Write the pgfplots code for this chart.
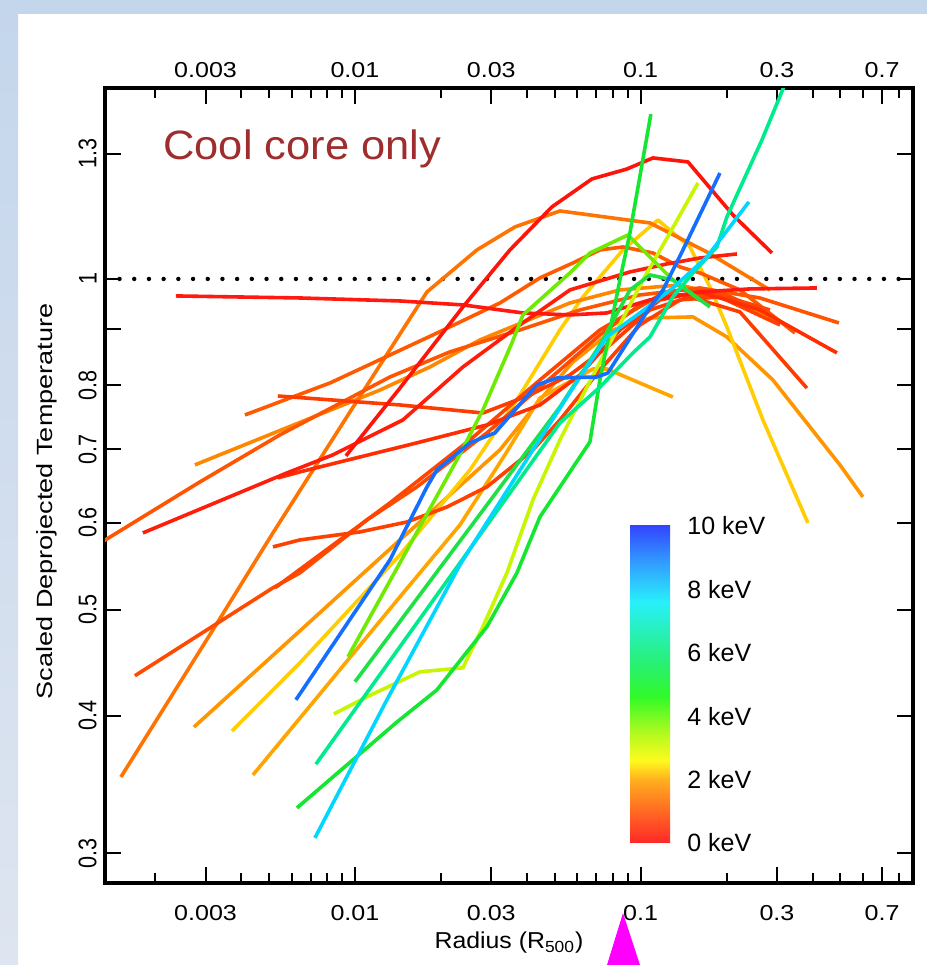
\documentclass[border=0pt]{standalone}
\usepackage{fontspec}
\setmainfont{Liberation Sans}
\usepackage{pgfplots}
\pgfplotsset{compat=1.18}
\definecolor{bandA}{RGB}{196,214,236}
\definecolor{bandB}{RGB}{222,229,240}
\definecolor{ccred}{RGB}{160,45,45}
\definecolor{pinkarrow}{RGB}{255,0,255}
\definecolor{cL1}{RGB}{255,25,15}
\definecolor{cL2}{RGB}{255,20,10}
\definecolor{cL3}{RGB}{255,115,0}
\definecolor{cS4}{RGB}{255,85,0}
\definecolor{cS5}{RGB}{255,30,10}
\definecolor{cS6}{RGB}{255,135,0}
\definecolor{cS7}{RGB}{255,90,0}
\definecolor{cS8}{RGB}{255,60,0}
\definecolor{cS9}{RGB}{255,45,0}
\definecolor{cS10}{RGB}{255,75,0}
\definecolor{cS11}{RGB}{255,65,0}
\definecolor{cS12}{RGB}{255,70,0}
\definecolor{cS13}{RGB}{255,150,0}
\definecolor{cS14}{RGB}{255,205,0}
\definecolor{cS15}{RGB}{255,165,0}
\definecolor{cS16}{RGB}{20,110,255}
\definecolor{cS17}{RGB}{110,235,0}
\definecolor{cS18}{RGB}{30,225,70}
\definecolor{cS19}{RGB}{0,235,140}
\definecolor{cS20}{RGB}{20,230,50}
\definecolor{cS21}{RGB}{0,215,255}
\definecolor{cS22}{RGB}{200,245,0}
\pgfdeclareverticalshading{kevshade}{100bp}{rgb(0bp)=(1,0.157,0.157); rgb(25bp)=(1,0.157,0.157); rgb(30bp)=(1,0.412,0.137); rgb(35bp)=(1,0.686,0.118); rgb(38bp)=(1,0.98,0.118); rgb(42.5bp)=(0.686,0.98,0.118); rgb(48bp)=(0.196,0.98,0.157); rgb(53bp)=(0.157,0.941,0.431); rgb(58bp)=(0.157,0.941,0.706); rgb(63bp)=(0.157,0.941,0.98); rgb(69bp)=(0.196,0.627,1); rgb(75bp)=(0.196,0.275,1); rgb(100bp)=(0.196,0.275,1)}
\newcommand{\tickfont}{\fontsize{10.8}{12}\selectfont}
\begin{document}
\begin{tikzpicture}
\path[use as bounding box] (0pt,0pt) rectangle (463.5pt,482.5pt);
\fill[white] (0pt,0pt) rectangle (463.5pt,482.5pt);
\shade[top color=bandA, bottom color=bandB] (0pt,0pt) rectangle (9pt,482.5pt);
\fill[bandA] (0pt,475.5pt) rectangle (463.5pt,482.5pt);
\begin{axis}[
  at={(52.5pt,41pt)}, anchor=south west, scale only axis,
  width=404pt, height=397.5pt,
  xmode=log, ymode=log,
  xmin=0.001334, xmax=0.898, ymin=0.28183, ymax=1.4924,
  xtick={0.003,0.01,0.03,0.1,0.3,0.7},
  xticklabels={0.003,0.01,0.03,0.1,0.3,0.7},
  minor xtick={0.002,0.004,0.005,0.006,0.007,0.008,0.009,0.02,0.04,0.05,0.06,0.07,0.08,0.09,0.2,0.4,0.5,0.6,0.8},
  ytick={0.3,0.4,0.5,0.6,0.7,0.8,0.9,1,1.3},
  yticklabels={0.3,0.4,0.5,0.6,0.7,0.8,{},1,1.3},
  minor ytick={},
  tick align=inside,
  major tick length=8pt, minor tick length=5pt,
  axis line style={line width=1.8pt},
  every tick/.style={black, line width=1pt},
  xticklabel style={font=\tickfont, xscale=1.16, yshift=-7.5pt},
  yticklabel style={font=\tickfont, rotate=90, anchor=south, yscale=1.18},
  xlabel={Radius (R\textsubscript{500})},
  xlabel style={at={(axis description cs:0.5,-0.0755)}, anchor=center, font=\fontsize{11.5}{13}\selectfont, xscale=1.08},
  ylabel={Scaled Deprojected Temperature},
  ylabel style={at={(axis description cs:-0.0718,0.48)}, anchor=center, font=\fontsize{11}{13}\selectfont, xscale=1.23},
  every axis plot/.append style={line width=1.8pt, line join=round},
]
\addplot[black, line width=2.2pt, line cap=round, dash pattern=on 0pt off 7.35pt] coordinates {(0.0015,1) (0.898,1)};
% red / orange profiles
\addplot[cS13] coordinates {(0.002732,0.3909) (0.006421,0.4782) (0.01437,0.5786) (0.03218,0.6989) (0.04441,0.7759) (0.05794,0.8403) (0.07998,0.8986) (0.1078,0.9215) (0.1524,0.9235) (0.2004,0.8855) (0.2904,0.8091) (0.4983,0.6772) (0.5998,0.6332)};
\addplot[cS15] coordinates {(0.004395,0.3535) (0.008176,0.4297) (0.01437,0.5135) (0.02331,0.5971) (0.03350,0.6916) (0.04441,0.7792) (0.05794,0.8091) (0.06808,0.8280) (0.07621,0.8280) (0.1297,0.7808)};
\addplot[cS14] coordinates {(0.003711,0.3876) (0.006421,0.4472) (0.01437,0.5607) (0.02527,0.6701) (0.03780,0.7841) (0.05218,0.8986) (0.06281,0.9630) (0.08670,1.0627) (0.1149,1.1316) (0.1488,1.0694) (0.1748,0.9834) (0.2004,0.9043) (0.2679,0.7441) (0.3850,0.5996)};
\addplot[cS6] coordinates {(0.002754,0.6772) (0.01223,0.7923) (0.01830,0.8315) (0.02738,0.8800) (0.05656,0.9509) (0.08462,0.9772) (0.1373,0.9875) (0.1895,0.9670) (0.3073,0.9119)};
\addplot[cL3] coordinates {(0.001517,0.3520) (0.003184,0.4792) (0.005164,0.5872) (0.009605,0.7567) (0.01787,0.9731) (0.02673,1.0627) (0.03631,1.1152) (0.05218,1.1532) (0.1078,1.1246) (0.1706,1.0582) (0.2835,0.9772)};
\addplot[cS4] coordinates {(0.00132,0.5774) (0.002868,0.6535) (0.005464,0.7212) (0.01326,0.8142) (0.02150,0.8582) (0.03780,0.8986) (0.06131,0.9371) (0.09943,0.9670) (0.1613,0.9813) (0.2615,0.9609) (0.4943,0.9119)};
\addplot[cS7] coordinates {(0.004121,0.7520) (0.008176,0.8040) (0.01875,0.8892) (0.03218,0.9509) (0.04441,1.0021) (0.05794,1.0341) (0.07203,1.0627) (0.08670,1.0694) (0.1104,1.0560) (0.1373,1.0255) (0.1613,1.0127) (0.2226,0.9772) (0.3467,0.8929)};
\addplot[cS10] coordinates {(0.001698,0.4352) (0.005164,0.5233) (0.006421,0.5400) (0.01102,0.6034) (0.01648,0.6467) (0.02897,0.7242) (0.03690,0.7647) (0.05218,0.8263) (0.07203,0.8892) (0.09943,0.9470) (0.1373,0.9772) (0.1895,0.9731) (0.2835,0.9273)};
\addplot[cS12] coordinates {(0.005248,0.5233) (0.01326,0.6253) (0.02527,0.7137) (0.04441,0.8091) (0.07203,0.8986) (0.1168,0.9670) (0.1895,0.9670) (0.2835,0.9371)};
\addplot[cS11] coordinates {(0.005164,0.5702) (0.006421,0.5786) (0.01041,0.5884) (0.01521,0.6008) (0.02099,0.6200) (0.02897,0.6467) (0.04198,0.6989) (0.05218,0.7441) (0.07203,0.8263) (0.09943,0.9081) (0.1373,0.9570) (0.1895,0.9630) (0.3073,0.9081)};
\addplot[cS8] coordinates {(0.005377,0.7825) (0.01437,0.7679) (0.02805,0.7551) (0.04097,0.7841) (0.05656,0.8177) (0.07807,0.8708) (0.1078,0.9371) (0.1488,0.9630) (0.2226,0.9332) (0.3819,0.7956)};
\addplot[cS9] coordinates {(0.005377,0.6590) (0.006421,0.6673) (0.01648,0.7092) (0.02897,0.7364) (0.04441,0.7679) (0.06131,0.8177) (0.08462,0.8986) (0.1168,0.9570) (0.1613,0.9731) (0.2615,0.9371) (0.4864,0.8564)};
\addplot[cS5] coordinates {(0.001811,0.5872) (0.005781,0.6659) (0.008375,0.6916) (0.01472,0.7441) (0.02388,0.8315) (0.03780,0.9081) (0.05656,0.9772) (0.09173,1.0148) (0.1236,1.0320) (0.1613,1.0450) (0.2173,1.0538)};
\addplot[cL1] coordinates {(0.002363,0.9650) (0.006421,0.9609) (0.01437,0.9549) (0.02388,0.9470) (0.03873,0.9312) (0.05656,0.9273) (0.07621,0.9312) (0.1078,0.9570) (0.1613,0.9731) (0.2413,0.9793) (0.4140,0.9813)};
\addplot[cL2] coordinates {(0.009301,0.6901) (0.01437,0.7956) (0.02388,0.9430) (0.03487,1.0627) (0.04892,1.1630) (0.06753,1.2332) (0.08954,1.2592) (0.1104,1.2888) (0.1464,1.2781) (0.2104,1.1436) (0.2881,1.0560)};
% hotter clusters
\addplot[cS22] coordinates {(0.008443,0.4017) (0.01102,0.4164) (0.01689,0.4388) (0.02388,0.4425) (0.02805,0.4823) (0.03404,0.5400) (0.04198,0.6292) (0.05218,0.7137) (0.06486,0.7973) (0.08260,0.8986) (0.1019,0.9979) (0.1266,1.1012) (0.1587,1.2229)};
\addplot[cS17] coordinates {(0.009451,0.4528) (0.02275,0.6844) (0.02805,0.7599) (0.03544,0.8744) (0.03873,0.9273) (0.05656,1.0127) (0.06645,1.0560) (0.09026,1.0965) (0.1297,0.9979) (0.1613,0.9570)};
\addplot[cS18] coordinates {(0.01,0.4297) (0.02897,0.6226) (0.05218,0.7647) (0.07203,0.8708) (0.09173,0.9772) (0.1078,1.0084) (0.1297,0.9979) (0.1748,0.9430)};
\addplot[cS20] coordinates {(0.006266,0.3299) (0.01403,0.3950) (0.01936,0.4225) (0.02897,0.4823) (0.03690,0.5400) (0.04441,0.6072) (0.05218,0.6467) (0.06645,0.7107) (0.07203,0.8091) (0.07807,0.8986) (0.08462,0.9979) (0.09173,1.1012) (0.1086,1.4130)};
\addplot[cS19] coordinates {(0.007303,0.3616) (0.01058,0.4138) (0.02331,0.5514) (0.05218,0.7395) (0.07203,0.7973) (0.09397,0.8564) (0.1078,0.8855) (0.1297,0.9630) (0.1524,1.0127) (0.1849,1.0694) (0.2004,1.1388) (0.2658,1.3383) (0.3331,1.5432)};
\addplot[cS21] coordinates {(0.007244,0.3098) (0.01294,0.4138) (0.02331,0.5491) (0.04198,0.6989) (0.05888,0.8007) (0.07621,0.8855) (0.09943,0.9312) (0.1297,0.9813) (0.1706,1.0472) (0.2393,1.1753)};
\addplot[cS16] coordinates {(0.006216,0.4138) (0.01326,0.5549) (0.01787,0.6467) (0.01936,0.6701) (0.02527,0.7092) (0.03090,0.7242) (0.04335,0.8007) (0.05093,0.8125) (0.07031,0.8142) (0.07682,0.8211) (0.1061,0.9371) (0.1197,0.9772) (0.1406,1.0627) (0.1895,1.2487)};
\end{axis}
\begin{axis}[
  at={(52.5pt,41pt)}, anchor=south west, scale only axis,
  width=404pt, height=397.5pt,
  xmode=log, ymode=log,
  xmin=0.001334, xmax=0.898, ymin=0.28183, ymax=1.4924,
  xtick={0.003,0.01,0.03,0.1,0.3,0.7},
  xticklabels={0.003,0.01,0.03,0.1,0.3,0.7},
  xticklabel pos=right, minor xtick={}, ytick=\empty,
  major tick length=0pt, axis line style={draw=none},
  xticklabel style={font=\tickfont, xscale=1.16, yshift=1.5pt},
]
\end{axis}
% colour scale
\shade[shading=kevshade] (315pt,61pt) rectangle (335pt,219.5pt);
\begin{scope}[every node/.style={anchor=west, inner sep=0pt, font=\fontsize{12.5}{14}\selectfont}]
\node at (343.5pt,61pt) {0 keV};
\node at (343.5pt,92.7pt) {2 keV};
\node at (343.5pt,124.4pt) {4 keV};
\node at (343.5pt,156.1pt) {6 keV};
\node at (343.5pt,187.8pt) {8 keV};
\node at (343.5pt,219.5pt) {10 keV};
\end{scope}
\node[anchor=base west, inner sep=0pt, text=ccred, font=\fontsize{20.5}{24}\selectfont, xscale=1.06] at (81.5pt,402.5pt) {Cool core only};
\fill[pinkarrow] (311.5pt,26pt) -- (303.5pt,0pt) -- (320pt,0pt) -- cycle;
\end{tikzpicture}
\end{document}
